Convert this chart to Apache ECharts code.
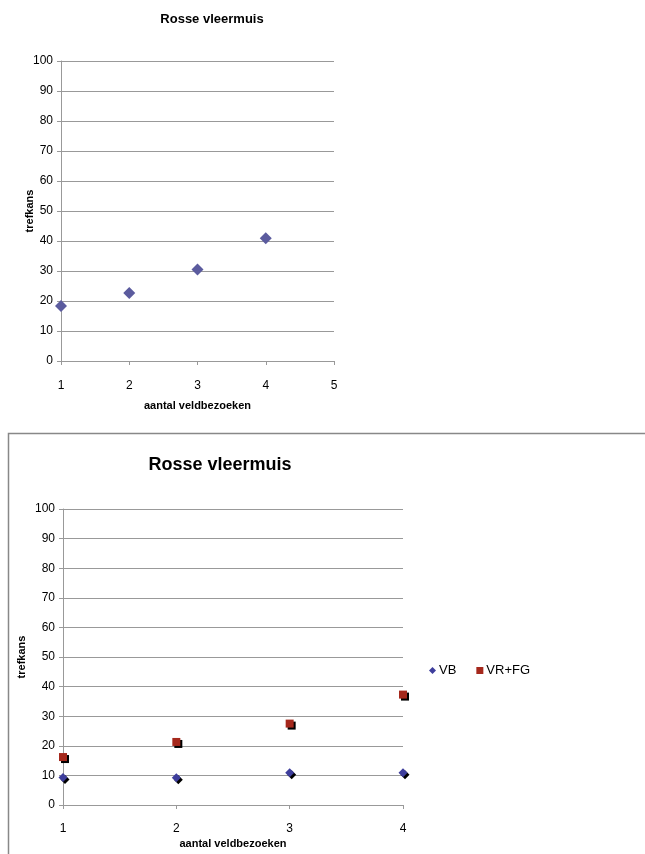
<!DOCTYPE html>
<html><head><meta charset="utf-8">
<script src="https://cdn.jsdelivr.net/npm/echarts@6/dist/echarts.min.js"></script>
<style>html,body{margin:0;padding:0;background:#fff}#c{width:645px;height:854px}</style>
</head><body><div id="c"></div>
<script>
var topX = [1, 2, 3, 4];
var topValues = [18.3, 22.7, 30.5, 40.9];
var botX = [1, 2, 3, 4];
var vbValues = [9.3, 9.2, 10.9, 10.9];
var vrfgValues = [16.2, 21.3, 27.5, 37.3];
var chartTitle = 'Rosse vleermuis';
var xTitle = 'aantal veldbezoeken';
var yTitle = 'trefkans';

var FONT = 'Liberation Sans';
function pairs(xs, ys){ return xs.map(function(x,i){ return [x, ys[i]]; }); }
var gridLine = {show:true, lineStyle:{color:'#999', width:1}};
var axLine = {show:true, lineStyle:{color:'#999', width:1}};
var lbl = {color:'#000', fontSize:12, fontFamily:FONT};
var nameSt = {color:'#000', fontSize:11, fontWeight:'bold', fontFamily:FONT};

var chart = echarts.init(document.getElementById('c'), null, {renderer:'canvas'});
chart.setOption({
  animation:false,
  backgroundColor:'#fff',
  graphic:[{type:'rect', shape:{x:8.5, y:433.5, width:650, height:440}, style:{fill:null, stroke:'#888', lineWidth:1.5}, z:-1}],
  title:[
    {text:chartTitle, left:207, top:8, textAlign:'center', textStyle:{fontSize:13, fontWeight:'bold', fontFamily:FONT, color:'#000'}},
    {text:chartTitle, left:215, top:451, textAlign:'center', textStyle:{fontSize:18, fontWeight:'bold', fontFamily:FONT, color:'#000'}}
  ],
  legend:{
    left:424, top:659, itemGap:20, itemWidth:7, itemHeight:7,
    textStyle:{fontSize:13, fontFamily:FONT, color:'#000', padding:[0,0,0,-2]},
    data:[{name:'VB', icon:'diamond'},{name:'VR+FG', icon:'rect'}]
  },
  grid:[
    {left:61, top:61, width:273, height:300},
    {left:63, top:509, width:340, height:296}
  ],
  xAxis:[
    {gridIndex:0, type:'value', min:1, max:5, interval:1,
     name:xTitle, nameLocation:'middle', nameGap:39, nameTextStyle:nameSt,
     axisLine:axLine, axisTick:{show:true, length:4, lineStyle:{color:'#999'}}, splitLine:{show:false},
     axisLabel:Object.assign({margin:19}, lbl)},
    {gridIndex:1, type:'value', min:1, max:4, interval:1,
     name:xTitle, nameLocation:'middle', nameGap:33, nameTextStyle:nameSt,
     axisLine:axLine, axisTick:{show:true, length:4, lineStyle:{color:'#999'}}, splitLine:{show:false},
     axisLabel:Object.assign({margin:18}, lbl)}
  ],
  yAxis:[
    {gridIndex:0, type:'value', min:0, max:100, interval:10,
     name:yTitle, nameLocation:'middle', nameGap:26, nameMoveOverlap:false, nameTextStyle:nameSt,
     axisLine:axLine, axisTick:{show:true, length:4, lineStyle:{color:'#999'}}, splitLine:gridLine,
     axisLabel:Object.assign({margin:8}, lbl)},
    {gridIndex:1, type:'value', min:0, max:100, interval:10,
     name:yTitle, nameLocation:'middle', nameGap:36, nameMoveOverlap:false, nameTextStyle:nameSt,
     axisLine:axLine, axisTick:{show:true, length:4, lineStyle:{color:'#999'}}, splitLine:gridLine,
     axisLabel:Object.assign({margin:8}, lbl)}
  ],
  series:[
    {type:'scatter', name:'top', xAxisIndex:0, yAxisIndex:0, symbol:'diamond', symbolSize:12,
     itemStyle:{color:'#5B5B9E', opacity:1}, data:pairs(topX, topValues), clip:false},
    {type:'scatter', name:'VB', xAxisIndex:1, yAxisIndex:1, symbol:'diamond', symbolSize:9,
     itemStyle:{color:'#3E3E9C', opacity:1, shadowColor:'#000', shadowOffsetX:2, shadowOffsetY:2, shadowBlur:0},
     data:pairs(botX, vbValues), clip:false},
    {type:'scatter', name:'VR+FG', xAxisIndex:1, yAxisIndex:1, symbol:'rect', symbolSize:8,
     itemStyle:{color:'#A5281C', opacity:1, shadowColor:'#000', shadowOffsetX:2, shadowOffsetY:2, shadowBlur:0},
     data:pairs(botX, vrfgValues), clip:false}
  ]
});
</script></body></html>
